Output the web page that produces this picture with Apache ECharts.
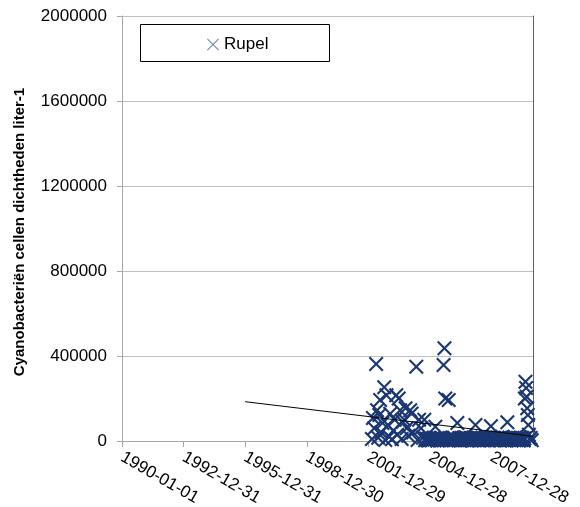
<!DOCTYPE html>
<html>
<head>
<meta charset="utf-8">
<script src="https://cdn.jsdelivr.net/npm/echarts@6/dist/echarts.min.js"></script>
<style>
  html, body { margin: 0; padding: 0; background: #fff; }
  #chart { width: 580px; height: 507px; }
</style>
</head>
<body>
<div id="chart"></div>
<script>
// Sampling dates and cyanobacteria cell densities (cells per liter) for the Rupel
const sampleDates = [
  '2002-03-01','2002-03-20','2002-04-10','2002-05-15','2002-06-01','2002-06-20','2002-07-10','2002-07-25',
  '2002-08-15','2002-09-05','2002-10-06','2002-10-25','2002-11-15','2002-12-10','2002-12-28','2003-01-20',
  '2003-02-20','2003-03-15','2003-04-10','2003-05-07','2003-05-25','2003-06-20','2003-07-15','2003-08-10',
  '2003-09-01','2003-09-27','2003-10-20','2003-11-10','2003-12-07','2004-01-10','2004-02-05','2004-03-01',
  '2004-04-27','2004-05-20','2004-06-15','2004-07-20','2004-08-25','2004-09-17','2004-10-01','2004-10-15',
  '2004-10-30','2004-11-10','2004-11-25','2004-12-05','2004-12-20','2005-01-05','2005-01-18','2005-02-01',
  '2005-02-15','2005-03-01','2005-03-15','2005-04-01','2005-04-25','2005-05-08','2005-05-20','2005-06-01',
  '2005-06-15','2005-06-28','2005-07-10','2005-07-22','2005-08-05','2005-08-25','2005-09-10','2005-09-25',
  '2005-10-15','2005-10-28','2005-11-05','2005-11-25','2005-12-08','2005-12-20','2006-01-03','2006-01-15',
  '2006-01-28','2006-02-10','2006-02-22','2006-03-05','2006-03-18','2006-04-01','2006-04-27','2006-05-15',
  '2006-05-28','2006-06-10','2006-06-22','2006-07-05','2006-07-18','2006-08-01','2006-08-13','2006-08-25',
  '2006-09-07','2006-09-20','2006-10-03','2006-10-15','2006-10-28','2006-11-10','2006-11-22','2006-12-05',
  '2006-12-18','2007-01-01','2007-01-12','2007-01-25','2007-02-08','2007-02-20','2007-03-02','2007-03-15',
  '2007-03-28','2007-04-10','2007-04-22','2007-05-05','2007-05-18','2007-06-01','2007-06-13','2007-06-25',
  '2007-07-08','2007-07-20','2007-08-02','2007-08-15','2007-08-28','2007-09-10','2007-09-22','2007-10-05',
  '2007-10-18','2007-10-30','2007-11-10','2007-11-20','2007-12-03','2007-12-15','2007-12-28','2008-01-10',
  '2008-01-22','2008-02-05','2008-02-18','2008-03-01','2008-03-13','2008-03-25','2008-04-08','2008-04-20',
  '2008-05-02','2008-05-15','2008-05-28','2008-06-10','2008-06-22','2008-07-05','2008-07-18','2008-08-01',
  '2008-08-13','2008-08-25','2008-09-07','2008-09-20','2008-10-02','2008-10-15','2008-10-28','2008-11-10',
  '2008-11-22','2008-12-05','2008-12-18','2009-01-01','2009-01-13','2009-01-25','2009-02-07','2009-02-20',
  '2009-03-03','2009-03-15','2009-03-28','2009-04-10','2009-04-22','2009-05-05','2009-05-18','2009-06-01',
  '2009-06-13','2009-06-25','2009-07-08','2009-07-20','2009-08-01','2009-08-10','2009-08-20','2009-09-01',
  '2009-09-10','2009-09-20','2009-10-01','2009-10-10','2009-10-20','2009-11-01','2009-11-20','2009-12-10'
];
const rupelCells = [
  10000,108000,60000,362000,145000,15000,122000,193000,
  40000,85000,253000,5000,215000,75000,20000,128000,
  8000,50000,100000,215000,30000,200000,145000,10000,
  90000,100000,154000,60000,25000,145000,130000,40000,
  350000,5000,100000,60000,15000,100000,4000,12000,
  9000,5000,2000,10000,14000,8000,3000,3000,
  11000,15000,6000,67000,8000,2000,12000,9000,
  5000,13000,15000,4000,12000,358000,437000,200000,
  2000,10000,7000,193000,14000,10000,4000,10000,
  16000,5000,9000,15000,3000,6000,85000,8000,
  12000,14000,2000,3000,10000,9000,15000,12000,
  4000,16000,8000,5000,13000,11000,3000,10000,
  14000,2000,7000,9000,16000,13000,4000,75000,
  10000,7000,12000,15000,2000,4000,9000,12000,
  6000,15000,11000,6000,3000,8000,14000,12000,
  5000,17000,9000,3000,12000,70000,6000,8000,
  15000,10000,4000,5000,11000,5000,16000,5000,
  9000,14000,2000,10000,13000,20000,7000,9000,
  4000,3000,15000,12000,88000,10000,5000,6000,
  12000,6000,3000,15000,8000,10000,4000,18000,
  12000,4000,9000,11000,2000,9000,14000,16000,
  5000,14000,8000,2000,12000,200000,279000,250000,
  208000,154000,122000,75000,30000,10000,14000,3000
];

// Linear trend line end points
const trendDates = ['1995-12-29', '2010-01-01'];
const trendCells = [185000, 22000];

// Axis settings
const axisStartDate = '1990-01-01';
const axisEndDate = '2010-01-01';
const xTickDays = 1095;
const yTicks = [0, 400000, 800000, 1200000, 1600000, 2000000];
const yTitle = 'Cyanobacteriën cellen dichtheden liter-1';

const DAY = 86400000;
const t0 = Date.parse(axisStartDate);
const toDays = d => Math.round((Date.parse(d) - t0) / DAY);
const fmtDate = days => new Date(t0 + days * DAY).toISOString().slice(0, 10);

const rupelPoints = sampleDates.map((d, i) => [toDays(d), rupelCells[i]]);
const trendPoints = trendDates.map((d, i) => [toDays(d), trendCells[i]]);

const crossPath = 'path://M0,1 L1,0 L5,4 L9,0 L10,1 L6,5 L10,9 L9,10 L5,6 L1,10 L0,9 L4,5 Z';
const thinCross = 'path://M0,0.6 L0.6,0 L5,4.4 L9.4,0 L10,0.6 L5.6,5 L10,9.4 L9.4,10 L5,5.6 L0.6,10 L0,9.4 L4.4,5 Z';
const FONT = 'Liberation Sans, Arial, sans-serif';

const chart = echarts.init(document.getElementById('chart'), null, { renderer: 'canvas' });
chart.setOption({
  animation: false,
  backgroundColor: '#fff',
  grid: { left: 122, right: 47, top: 16, bottom: 66, containLabel: false, outerBoundsMode: 'none' },
  legend: {
    left: 202, top: 31,
    itemWidth: 12, itemHeight: 12,
    textStyle: { fontFamily: FONT, fontSize: 17, color: '#000' },
    data: [{ name: 'Rupel', icon: thinCross, itemStyle: { color: '#7080c0', borderWidth: 0 } }]
  },
  graphic: [{
    type: 'rect', left: 140, top: 24, z: 1,
    shape: { width: 189, height: 37 },
    style: { fill: '#fff', stroke: '#000', lineWidth: 1 }
  }, {
    type: 'text', x: 20, y: 232, rotation: Math.PI / 2, z: 5,
    style: {
      text: yTitle, fill: '#000',
      font: 'bold 15px ' + FONT,
      align: 'center', verticalAlign: 'middle'
    }
  }],
  xAxis: {
    type: 'value',
    min: 0, max: toDays(axisEndDate), interval: xTickDays,
    splitLine: { show: false },
    axisLine: { show: true, lineStyle: { color: '#a6a6a6', width: 1 } },
    axisTick: { show: true, length: 6, lineStyle: { color: '#a6a6a6' } },
    axisLabel: {
      rotate: -30, margin: 15, showMaxLabel: false,
      fontFamily: FONT, fontSize: 17, color: '#000',
      formatter: v => fmtDate(v)
    }
  },
  yAxis: [{
    type: 'value',
    min: yTicks[0], max: yTicks[yTicks.length - 1], interval: yTicks[1] - yTicks[0],
    axisLine: { show: true, lineStyle: { color: '#a6a6a6', width: 1 } },
    axisTick: { show: true, length: 5, lineStyle: { color: '#a6a6a6' } },
    splitLine: { show: true, lineStyle: { color: '#bfbfbf', width: 1 } },
    axisLabel: {
      margin: 15, fontFamily: FONT, fontSize: 17, color: '#000',
      formatter: v => String(v)
    }
  }, {
    type: 'value', position: 'right',
    min: yTicks[0], max: yTicks[yTicks.length - 1],
    axisLine: { show: true, lineStyle: { color: '#606060', width: 1 } },
    axisTick: { show: false }, axisLabel: { show: false }, splitLine: { show: false }
  }],
  series: [{
    name: 'Rupel',
    type: 'scatter',
    data: rupelPoints,
    symbol: crossPath,
    symbolSize: 15,
    itemStyle: { color: '#1a3773', opacity: 1 },
    z: 3
  }, {
    name: 'trend',
    type: 'line',
    data: trendPoints,
    symbol: 'none',
    lineStyle: { color: '#000', width: 1 },
    z: 4,
    silent: true
  }]
});
</script>
</body>
</html>
